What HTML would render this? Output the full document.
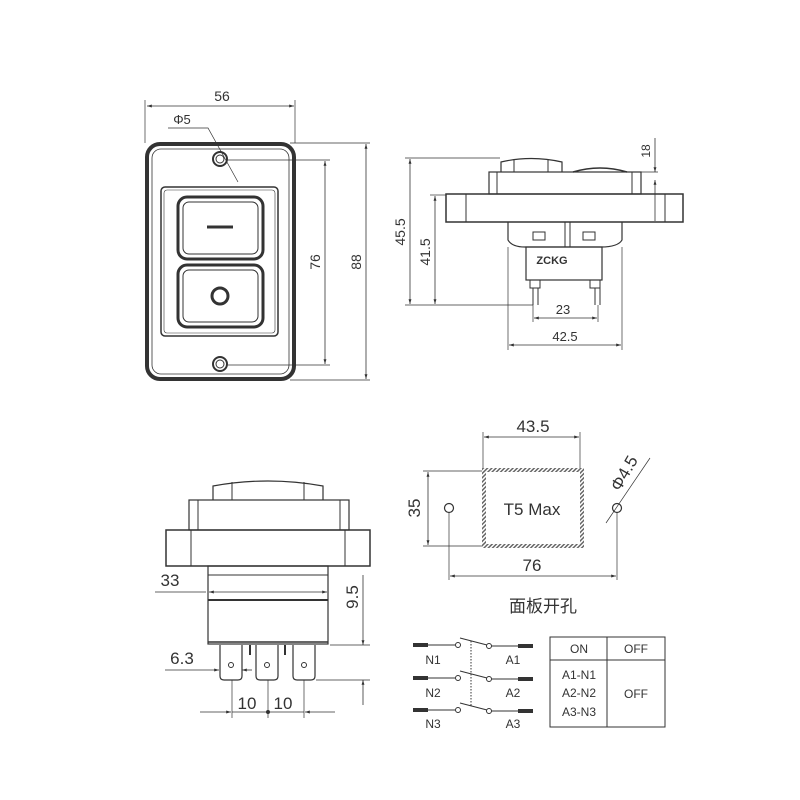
<!DOCTYPE html>
<html><head><meta charset="utf-8"><style>
html,body{margin:0;padding:0;background:#fff;}
svg{display:block}
text{font-family:"Liberation Sans","Noto Sans CJK SC",sans-serif;fill:#333;}
</style></head><body>
<svg width="800" height="800" viewBox="0 0 800 800" xmlns="http://www.w3.org/2000/svg">
<defs>
<marker id="a" viewBox="0 0 10 10" refX="10" refY="5" markerWidth="8" markerHeight="6" orient="auto-start-reverse"><path d="M0,2 L10,5 L0,8 z" fill="#333"/></marker>
<pattern id="h" width="3" height="3" patternUnits="userSpaceOnUse" patternTransform="rotate(45)"><rect width="1.5" height="3" fill="#666"/></pattern>
</defs>
<g stroke="#333" fill="none" stroke-width="1">
<!-- FRONT VIEW -->
<rect x="147" y="144" width="147" height="235" rx="13" stroke-width="4"/>
<rect x="152" y="149" width="137" height="225" rx="9" stroke-width="0.8"/>
<rect x="161" y="187" width="117" height="149" rx="4" stroke-width="1.5"/>
<rect x="164" y="190" width="111" height="143" rx="3" stroke-width="0.6"/>
<rect x="178" y="197" width="85" height="62" rx="9" stroke-width="3"/>
<rect x="183" y="202" width="75" height="52" rx="6" stroke-width="1"/>
<rect x="178" y="265" width="85" height="62" rx="9" stroke-width="3"/>
<rect x="183" y="270" width="75" height="52" rx="6" stroke-width="1"/>
<line x1="207" y1="227" x2="233" y2="227" stroke-width="3"/>
<circle cx="220" cy="296" r="8" stroke-width="3"/>
<circle cx="220" cy="159" r="7" stroke-width="2"/><circle cx="220" cy="159" r="4"/>
<circle cx="220" cy="364" r="7" stroke-width="2"/><circle cx="220" cy="364" r="4"/>
<line x1="145" y1="100" x2="145" y2="143" stroke-width="0.7"/>
<line x1="295" y1="100" x2="295" y2="143" stroke-width="0.7"/>
<line x1="147" y1="106" x2="294" y2="106" marker-start="url(#a)" marker-end="url(#a)" stroke-width="0.8"/>
<polyline points="168,128 208,128 238,182" stroke-width="0.7"/>
<line x1="228" y1="160" x2="330" y2="160" stroke-width="0.7"/>
<line x1="228" y1="365" x2="330" y2="365" stroke-width="0.7"/>
<line x1="325" y1="161" x2="325" y2="364" marker-start="url(#a)" marker-end="url(#a)" stroke-width="0.8"/>
<line x1="290" y1="143" x2="370" y2="143" stroke-width="0.7"/>
<line x1="290" y1="380" x2="370" y2="380" stroke-width="0.7"/>
<line x1="366" y1="144" x2="366" y2="379" marker-start="url(#a)" marker-end="url(#a)" stroke-width="0.8"/>

<!-- SIDE VIEW -->
<path d="M501,172 L501,162 Q531,155 562,162 L562,172" stroke-width="1.2"/>
<line x1="514" y1="160" x2="514" y2="172"/><line x1="548" y1="160" x2="548" y2="172"/>
<path d="M573,172 Q600,164 627,172" stroke-width="1.5"/>
<rect x="489" y="172" width="152" height="22" stroke-width="1.2"/>
<line x1="497" y1="172" x2="497" y2="194"/><line x1="632" y1="172" x2="632" y2="194"/>
<rect x="446" y="194" width="237" height="28" stroke-width="1.5"/>
<line x1="466" y1="194" x2="466" y2="222"/><line x1="665" y1="194" x2="665" y2="222"/>
<path d="M508,222 L508,240 Q512,247 525,247 L601,247 Q618,247 622,240 L622,222" stroke-width="1.2"/>
<line x1="565" y1="222" x2="565" y2="247"/><line x1="570" y1="222" x2="570" y2="247"/>
<rect x="533" y="232" width="12" height="8"/><rect x="583" y="232" width="12" height="8"/>
<rect x="526" y="247" width="76" height="33" stroke-width="1.2"/>
<rect x="530" y="280" width="10" height="8"/><rect x="590" y="280" width="10" height="8"/>
<line x1="533" y1="288" x2="533" y2="305"/><line x1="538" y1="288" x2="538" y2="305"/>
<line x1="595" y1="288" x2="595" y2="305"/><line x1="600" y1="288" x2="600" y2="305"/>
<line x1="405" y1="158" x2="500" y2="158" stroke-width="0.7"/>
<line x1="430" y1="195" x2="446" y2="195" stroke-width="0.7"/>
<line x1="405" y1="305" x2="533" y2="305" stroke-width="0.7"/>
<line x1="410" y1="159" x2="410" y2="304" marker-start="url(#a)" marker-end="url(#a)" stroke-width="0.8"/>
<line x1="435" y1="196" x2="435" y2="304" marker-start="url(#a)" marker-end="url(#a)" stroke-width="0.8"/>
<line x1="641" y1="172" x2="658" y2="172" stroke-width="0.7"/>
<line x1="655" y1="138" x2="655" y2="172" marker-end="url(#a)" stroke-width="0.8"/>
<line x1="655" y1="180" x2="655" y2="221" marker-start="url(#a)" stroke-width="0.8"/>
<line x1="533" y1="305" x2="533" y2="322" stroke-width="0.7"/><line x1="598" y1="305" x2="598" y2="322" stroke-width="0.7"/>
<line x1="534" y1="318" x2="597" y2="318" marker-start="url(#a)" marker-end="url(#a)" stroke-width="0.8"/>
<line x1="508" y1="247" x2="508" y2="350" stroke-width="0.7"/><line x1="622" y1="247" x2="622" y2="350" stroke-width="0.7"/>
<line x1="509" y1="345" x2="621" y2="345" marker-start="url(#a)" marker-end="url(#a)" stroke-width="0.8"/>

<!-- BOTTOM-LEFT VIEW -->
<path d="M213,500 L213,486 Q268,476 323,486 L323,500" stroke-width="1.2"/>
<line x1="232" y1="482" x2="232" y2="500"/><line x1="304" y1="482" x2="304" y2="500"/>
<rect x="189" y="500" width="160" height="30" stroke-width="1.2"/>
<line x1="198" y1="500" x2="198" y2="530"/><line x1="340" y1="500" x2="340" y2="530"/>
<rect x="166" y="530" width="204" height="36" stroke-width="1.5"/>
<line x1="191" y1="530" x2="191" y2="566"/><line x1="345" y1="530" x2="345" y2="566"/>
<rect x="208" y="566" width="120" height="78" stroke-width="1.2"/>
<line x1="208" y1="575" x2="328" y2="575"/>
<line x1="208" y1="600" x2="328" y2="600" stroke-width="2"/>
<line x1="208" y1="642" x2="328" y2="642" stroke-width="1.5"/>
<path d="M220,645 L220,676 Q220,680 224,680 L238,680 Q242,680 242,676 L242,645" stroke-width="1.2"/>
<path d="M256,645 L256,676 Q256,680 260,680 L274,680 Q278,680 278,676 L278,645" stroke-width="1.2"/>
<path d="M293,645 L293,676 Q293,680 297,680 L311,680 Q315,680 315,676 L315,645" stroke-width="1.2"/>
<circle cx="231" cy="665" r="2.5"/><circle cx="267" cy="665" r="2.5"/><circle cx="304" cy="665" r="2.5"/>
<line x1="250" y1="645" x2="250" y2="655" stroke-width="2"/><line x1="285" y1="645" x2="285" y2="655" stroke-width="2"/>
<line x1="155" y1="592" x2="206" y2="592" stroke-width="0.7"/>
<line x1="209" y1="592" x2="327" y2="592" marker-start="url(#a)" marker-end="url(#a)" stroke-width="0.8"/>
<line x1="330" y1="645" x2="370" y2="645" stroke-width="0.7"/>
<line x1="316" y1="680" x2="370" y2="680" stroke-width="0.7"/>
<line x1="363" y1="575" x2="363" y2="645" marker-end="url(#a)" stroke-width="0.8"/>
<line x1="363" y1="680" x2="363" y2="705" marker-start="url(#a)" stroke-width="0.8"/>
<line x1="165" y1="670" x2="219" y2="670" marker-end="url(#a)" stroke-width="0.8"/>
<line x1="242" y1="670" x2="252" y2="670" marker-start="url(#a)" stroke-width="0.8"/>
<line x1="232" y1="680" x2="232" y2="718" stroke-width="0.7"/>
<line x1="268" y1="680" x2="268" y2="718" stroke-width="0.7"/>
<line x1="304" y1="680" x2="304" y2="718" stroke-width="0.7"/>
<line x1="200" y1="712" x2="231" y2="712" marker-end="url(#a)" stroke-width="0.8"/>
<line x1="232" y1="712" x2="304" y2="712" stroke-width="0.8"/>
<line x1="335" y1="712" x2="305" y2="712" marker-end="url(#a)" stroke-width="0.8"/>
<circle cx="268" cy="712" r="1.5" fill="#333"/>

<!-- CUTOUT -->
<rect x="484" y="470" width="98" height="76" stroke="url(#h)" stroke-width="4"/>
<line x1="483" y1="432" x2="483" y2="468" stroke-width="0.7"/><line x1="580" y1="432" x2="580" y2="468" stroke-width="0.7"/>
<line x1="484" y1="437" x2="579" y2="437" marker-start="url(#a)" marker-end="url(#a)" stroke-width="0.8"/>
<line x1="423" y1="471" x2="482" y2="471" stroke-width="0.7"/><line x1="423" y1="546" x2="482" y2="546" stroke-width="0.7"/>
<line x1="428" y1="472" x2="428" y2="545" marker-start="url(#a)" marker-end="url(#a)" stroke-width="0.8"/>
<circle cx="449" cy="508" r="4.5" stroke-width="1.2"/><circle cx="617" cy="508" r="4.5" stroke-width="1.2"/>
<line x1="449" y1="513" x2="449" y2="580" stroke-width="0.7"/><line x1="617" y1="513" x2="617" y2="580" stroke-width="0.7"/>
<line x1="450" y1="576" x2="616" y2="576" marker-start="url(#a)" marker-end="url(#a)" stroke-width="0.8"/>
<line x1="606" y1="523" x2="650" y2="458" stroke-width="0.7"/>

<!-- SWITCH SCHEMATIC -->
<g stroke-width="1">
<line x1="413" y1="645" x2="428" y2="645" stroke-width="4"/><line x1="428" y1="645" x2="455" y2="645"/><circle cx="458" cy="645" r="2.5"/>
<line x1="460" y1="638" x2="487" y2="645"/><circle cx="489" cy="646" r="2.5"/><line x1="491" y1="646" x2="518" y2="646"/><line x1="518" y1="646" x2="533" y2="646" stroke-width="4"/>
<line x1="413" y1="678" x2="428" y2="678" stroke-width="4"/><line x1="428" y1="678" x2="455" y2="678"/><circle cx="458" cy="678" r="2.5"/>
<line x1="460" y1="671" x2="487" y2="678"/><circle cx="489" cy="679" r="2.5"/><line x1="491" y1="679" x2="518" y2="679"/><line x1="518" y1="679" x2="533" y2="679" stroke-width="4"/>
<line x1="413" y1="710" x2="428" y2="710" stroke-width="4"/><line x1="428" y1="710" x2="455" y2="710"/><circle cx="458" cy="710" r="2.5"/>
<line x1="460" y1="703" x2="487" y2="710"/><circle cx="489" cy="711" r="2.5"/><line x1="491" y1="711" x2="518" y2="711"/><line x1="518" y1="711" x2="533" y2="711" stroke-width="4"/>
<line x1="471" y1="641" x2="471" y2="706" stroke-dasharray="1.5,1.5"/>
</g>
<rect x="550" y="637" width="115" height="90"/>
<line x1="550" y1="660" x2="665" y2="660"/>
<line x1="607" y1="637" x2="607" y2="727"/>
</g>
<g font-size="14" text-anchor="middle">
<text x="222" y="101">56</text>
<text x="182" y="124" font-size="13">Φ5</text>
<text transform="translate(320,262) rotate(-90)" x="0" y="0">76</text>
<text transform="translate(361,262) rotate(-90)">88</text>
<text transform="translate(405,232) rotate(-90)">45.5</text>
<text transform="translate(430,252) rotate(-90)">41.5</text>
<text transform="translate(650,151) rotate(-90)" font-size="12">18</text>
<text x="563" y="314" font-size="13">23</text>
<text x="565" y="341" font-size="13">42.5</text>
<text x="552" y="264" font-size="11" font-weight="bold">ZCKG</text>
<text x="170" y="586" font-size="17">33</text>
<text transform="translate(358,597) rotate(-90)" font-size="17">9.5</text>
<text x="182" y="664" font-size="17">6.3</text>
<text x="247" y="709" font-size="17">10</text>
<text x="283" y="709" font-size="17">10</text>
<text x="533" y="432" font-size="17">43.5</text>
<text transform="translate(420,508) rotate(-90)" font-size="17">35</text>
<text x="532" y="515" font-size="17">T5 Max</text>
<text x="532" y="571" font-size="17">76</text>
<text transform="translate(629,476) rotate(-60)" font-size="17">Φ4.5</text>
<text x="543" y="612" font-size="17">面板开孔</text>
<text x="433" y="664" font-size="12">N1</text><text x="513" y="664" font-size="12">A1</text>
<text x="433" y="697" font-size="12">N2</text><text x="513" y="697" font-size="12">A2</text>
<text x="433" y="728" font-size="12">N3</text><text x="513" y="728" font-size="12">A3</text>
<text x="579" y="653" font-size="12">ON</text><text x="636" y="653" font-size="12">OFF</text>
<text x="579" y="679" font-size="12">A1-N1</text>
<text x="579" y="697" font-size="12">A2-N2</text>
<text x="579" y="716" font-size="12">A3-N3</text>
<text x="636" y="698" font-size="12">OFF</text>
</g>
</svg>
</body></html>
